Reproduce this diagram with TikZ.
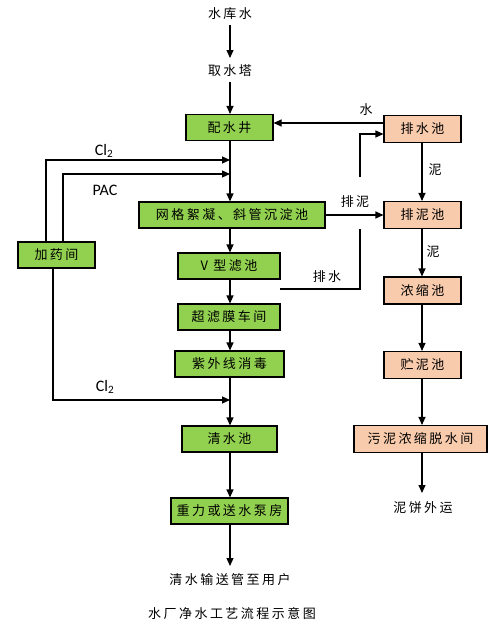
\documentclass[tikz,border=0pt]{standalone}
\usepackage{fontspec}
\newfontfamily\cjk[LetterSpace=19]{Noto Sans CJK SC}
\newfontfamily\lat{Carlito}
\usetikzlibrary{arrows.meta}
\definecolor{gbox}{HTML}{92D050}
\definecolor{obox}{HTML}{F8CBAD}
\tikzset{
  base/.style={draw=black, line width=1.1pt, minimum height=26pt, inner sep=0pt, font=\cjk\fontsize{13}{15}\selectfont},
  gnode/.style={base, fill=gbox},
  onode/.style={base, fill=obox, minimum height=27pt},
  txt/.style={inner sep=1pt, font=\cjk\fontsize{13}{15}\selectfont},
  lbl/.style={inner sep=0pt, font=\lat\fontsize{16}{18}\selectfont},
  arr/.style={draw=black, line width=1.1pt, -{Triangle[length=8pt,width=7pt]}},
  ln/.style={draw=black, line width=1.1pt},
}
\begin{document}
\begin{tikzpicture}[x=1pt,y=-1pt]
\useasboundingbox (0,0) rectangle (502,624);
% main column text nodes
\node[txt] (src) at (230,14) {水库水};
\node[txt] (tower) at (230,71) {取水塔};
\node[gnode, minimum width=87pt] (peishui) at (229.5,127.5) {配水井};
\node[gnode, minimum width=186pt] (wangge) at (232,215) {网格絮凝、斜管沉淀池};
\node[gnode, minimum width=77pt] (jiayao) at (56.5,255) {加药间};
\node[gnode, minimum width=102pt] (vlv) at (229,266) {V 型滤池};
\node[gnode, minimum width=102pt] (chaolv) at (229,317) {超滤膜车间};
\node[gnode, minimum width=109pt] (ziwai) at (229.5,364) {紫外线消毒};
\node[gnode, minimum width=95pt] (qingshui) at (229.5,439) {清水池};
\node[gnode, minimum width=117pt] (zhongli) at (229.5,511) {重力或送水泵房};
\node[txt] (user) at (230,580) {清水输送管至用户};
\node[txt] (title) at (232,614) {水厂净水工艺流程示意图};
% right column
\node[onode, minimum width=77pt] (paishui) at (422.5,129) {排水池};
\node[onode, minimum width=77pt] (paini) at (422.5,215) {排泥池};
\node[onode, minimum width=77pt] (nongsuo) at (422.5,290.5) {浓缩池};
\node[onode, minimum width=77pt] (zhuni) at (422.5,365) {贮泥池};
\node[onode, minimum width=133pt] (wuni) at (420.5,439) {污泥浓缩脱水间};
\node[txt] (cake) at (423,508) {泥饼外运};
% coordinates
\coordinate (m1) at (230,160);
\coordinate (m2) at (230,174);
\coordinate (m3) at (230,400);
\coordinate (uend) at (230,566);
\coordinate (cend) at (422,493);
\coordinate (w1) at (384,123);
\coordinate (d1) at (280,289);
\coordinate (d2) at (360,229);
\coordinate (d3) at (360,177);
% main flow
\draw[arr] (230,25) -- (230,58);
\draw[arr] (230,82) -- (peishui.north -| 230,0);
\draw[arr] (peishui.south -| 230,0) -- (wangge.north -| 230,0);
\draw[arr] (wangge.south -| 230,0) -- (vlv.north -| 230,0);
\draw[arr] (vlv.south -| 230,0) -- (chaolv.north -| 230,0);
\draw[arr] (chaolv.south -| 230,0) -- (ziwai.north -| 230,0);
\draw[arr] (ziwai.south -| 230,0) -- (qingshui.north -| 230,0);
\draw[arr] (qingshui.south -| 230,0) -- (zhongli.north -| 230,0);
\draw[arr] (zhongli.south -| 230,0) -- (uend);
% dosing
\draw[arr] (jiayao.north -| 46,0) -- (46,160) -- (m1);
\draw[arr] (jiayao.north -| 63,0) -- (63,174) -- (m2);
\draw[arr] (jiayao.south -| 53,0) -- (53,400) -- (m3);
\node[lbl] at (104,151) {Cl\textsubscript{2}};
\node[lbl] at (105,190) {PAC};
\node[lbl] at (105,387) {Cl\textsubscript{2}};
% right side
\draw[arr] (w1) -- (peishui.east |- w1);
\node[txt] at (366,110) {水};
\draw[arr] (wangge.east) -- (paini.west);
\node[txt] at (355,202) {排泥};
\draw[ln] (d1) -- (360,289) -- (d2);
\draw[arr] (d3) -- (360,134) -- (paishui.west |- 0,134);
\node[txt] at (327,277) {排水};
\draw[arr] (paishui.south -| 422,0) -- (paini.north -| 422,0);
\node[txt] at (435,170) {泥};
\draw[arr] (paini.south -| 422,0) -- (nongsuo.north -| 422,0);
\node[txt] at (433,252) {泥};
\draw[arr] (nongsuo.south -| 422,0) -- (zhuni.north -| 422,0);
\draw[arr] (zhuni.south -| 422,0) -- (wuni.north -| 422,0);
\draw[arr] (wuni.south -| 422,0) -- (cend);
\end{tikzpicture}
\end{document}
